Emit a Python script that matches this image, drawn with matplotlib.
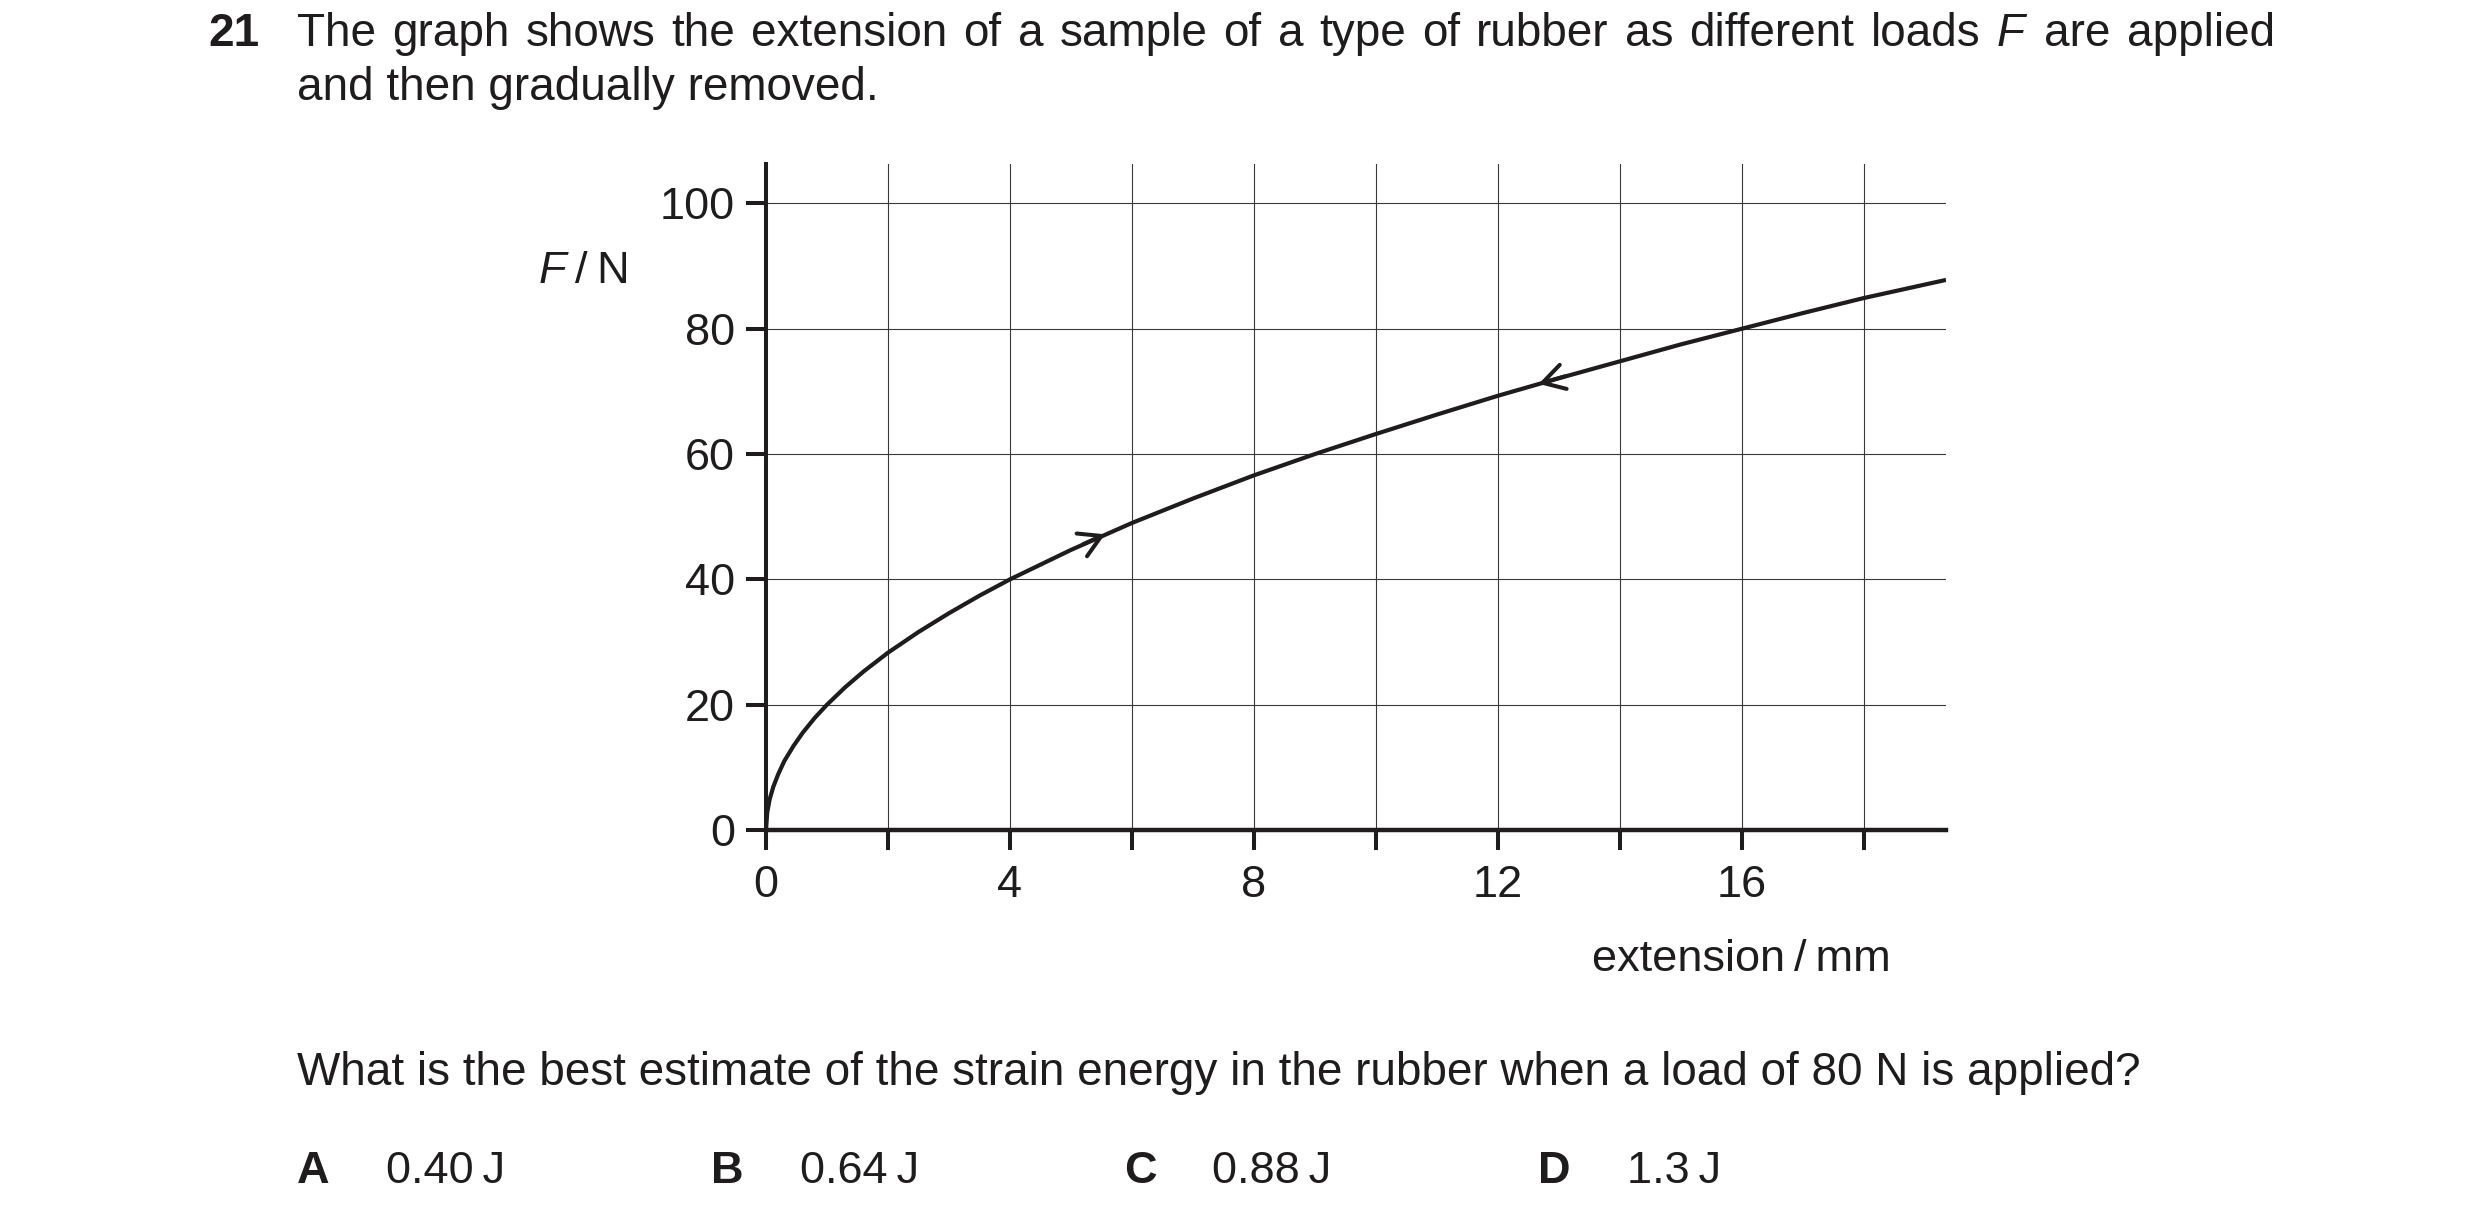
import matplotlib
matplotlib.use("Agg")
import matplotlib.pyplot as plt

plt.rcParams['font.family'] = ['Liberation Sans', 'DejaVu Sans']
plt.rcParams['mathtext.fontset'] = 'custom'
plt.rcParams['mathtext.rm'] = 'Liberation Sans'
plt.rcParams['mathtext.it'] = 'Liberation Sans:italic'
plt.rcParams['mathtext.bf'] = 'Liberation Sans:bold'

# ---- data ----
extension_mm = [0, 0.02, 0.06, 0.12, 0.2, 0.3, 0.45, 0.6, 0.8, 1.0, 1.3, 1.6, 2.0, 2.5,
                3.0, 3.5, 4.0, 5.0, 6.0, 7.0, 8.0, 9.0, 10.0, 11.0, 12.0, 13.0, 14.0,
                15.0, 16.0, 17.0, 18.0, 19.35]
force_N = [0, 2.8, 4.9, 6.9, 8.9, 11.0, 13.4, 15.5, 17.9, 20.0, 22.8, 25.3, 28.3, 31.6,
           34.6, 37.4, 40.0, 44.7, 49.0, 52.9, 56.6, 60.0, 63.2, 66.3, 69.3, 72.1, 74.8,
           77.5, 80.0, 82.5, 84.9, 87.8]

# direction arrows on the curve: (tail, tip)
arrow_loading = [(5.2, 45.6), (5.56, 47.2)]
arrow_unloading = [(13.1, 72.4), (12.67, 71.2)]

x_major = [0, 4, 8, 12, 16]
x_minor = [2, 6, 10, 14, 18]
y_major = [0, 20, 40, 60, 80, 100]
x_limits = (0, 19.35)
y_limits = (0, 106.3)

title_num = "21"
title_line1 = "The graph shows the extension of a sample of a type of rubber as different loads $F$ are applied"
title_line2 = "and then gradually removed."
y_label = "$F$\u2009/\u2009N"
x_label = "extension\u2009/\u2009mm"
question = "What is the best estimate of the strain energy in the rubber when a load of 80 N is applied?"
option_letters = ["A", "B", "C", "D"]
option_values = ["0.40\u2009J", "0.64\u2009J", "0.88\u2009J", "1.3\u2009J"]

# ---- figure ----
W, H = 2480, 1221
fig = plt.figure(figsize=(W / 100, H / 100), dpi=100)
ink = '#1f1c1d'
fs = 33

def px(x, y):
    return x / W, 1 - y / H

ax = fig.add_axes([766 / W, 1 - 830 / H, (1946 - 766) / W, (830 - 164) / H])
ax.plot(extension_mm, force_N, color=ink, lw=3.0, solid_capstyle='butt', zorder=3)

for tail, tip in (arrow_loading, arrow_unloading):
    ax.annotate('', xy=tip, xytext=tail,
                arrowprops=dict(arrowstyle='->,head_length=1.55,head_width=0.9',
                                color=ink, lw=2.9, shrinkA=0, shrinkB=0,
                                mutation_scale=10),
                zorder=4)

ax.set_xlim(*x_limits)
ax.set_ylim(*y_limits)
ax.set_xticks(x_major)
ax.set_xticks(x_minor, minor=True)
ax.set_yticks(y_major)
ax.set_xticklabels([str(v) for v in x_major])
ax.set_yticklabels([str(v) for v in y_major])

ax.grid(True, which='both', axis='x', color='#3a3a3a', lw=0.8, zorder=1)
ax.grid(True, which='major', axis='y', color='#3a3a3a', lw=0.8, zorder=1)
ax.set_axisbelow(True)

for s in ('top', 'right'):
    ax.spines[s].set_visible(False)
ax.spines['left'].set_linewidth(2.9)
ax.spines['bottom'].set_linewidth(3.2)
ax.spines['left'].set_color(ink)
ax.spines['bottom'].set_color(ink)

ax.tick_params(axis='both', which='both', direction='out', length=14.4, width=2.9,
               color=ink, labelcolor=ink, labelsize=32.5)
ax.tick_params(axis='x', which='both', pad=10.5)
ax.tick_params(axis='y', which='both', pad=8)

# ---- texts ----
renderer = fig.canvas.get_renderer()

fig.text(*px(208, 46), title_num, fontsize=fs, fontweight='bold', color=ink, va='baseline', ha='left')

# first line is fully justified between x=297 and x=2275
words = title_line1.split(' ')
objs = [fig.text(0, 0, w, fontsize=fs, color=ink, va='baseline', ha='left') for w in words]
widths = [o.get_window_extent(renderer).width for o in objs]
left_px, right_px = 297, 2275
gap = (right_px - left_px - sum(widths)) / (len(words) - 1)
cur = left_px
for o, wdt in zip(objs, widths):
    o.set_position(px(cur, 46))
    cur += wdt + gap

fig.text(*px(297, 100), title_line2, fontsize=fs, color=ink, va='baseline', ha='left')

fig.text(*px(538, 283), y_label, fontsize=32.5, color=ink, va='baseline', ha='left')
fig.text(*px(1592, 971), x_label, fontsize=32.5, color=ink, va='baseline', ha='left')

fig.text(*px(297, 1085), question, fontsize=fs, color=ink, va='baseline', ha='left')
letter_x = [297, 711, 1124, 1538]
value_x = [386, 800, 1212, 1627]
for lx, vx, L, V in zip(letter_x, value_x, option_letters, option_values):
    fig.text(*px(lx, 1183), L, fontsize=32.5, fontweight='bold', color=ink, va='baseline', ha='left')
    fig.text(*px(vx, 1183), V, fontsize=32.5, color=ink, va='baseline', ha='left')

fig.savefig('out.png', dpi=100, facecolor='white')
